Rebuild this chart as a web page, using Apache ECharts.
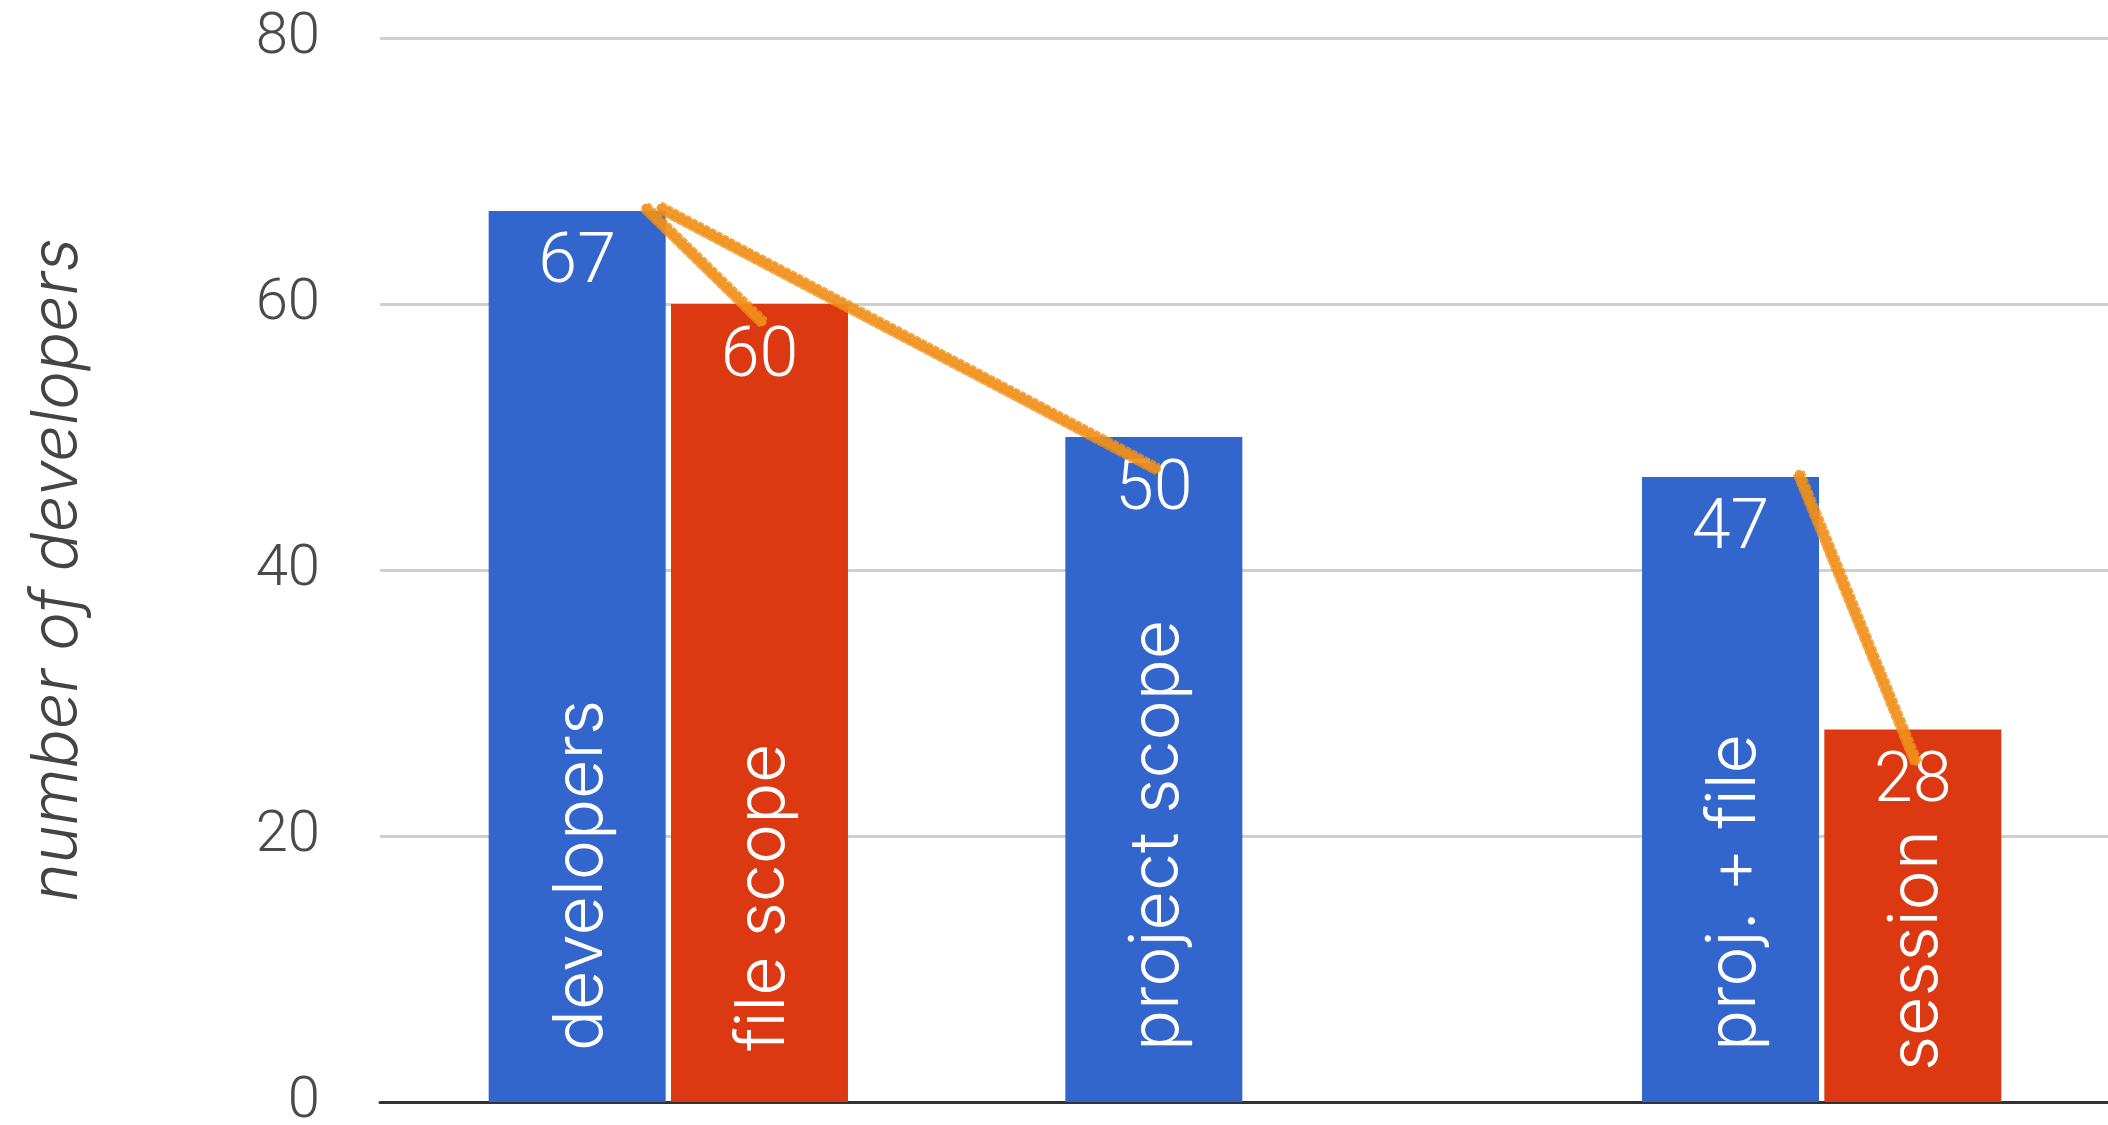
<!DOCTYPE html>
<html>
<head>
<meta charset="utf-8">
<script src="https://cdn.jsdelivr.net/npm/echarts@6/dist/echarts.min.js"></script>
<style>
  html, body { margin: 0; padding: 0; background: #ffffff; }
  #chart { width: 2108px; height: 1125px; }
</style>
</head>
<body>
<div id="chart"></div>
<script>
// Category slots along the x axis (axis labels are hidden; names sit inside the bars)
const categories = ['developers / file scope', 'project scope', 'proj. + file / session'];
// Blue series and its in-bar names
const blueValues = [67, 50, 47];
const blueNames = ['developers', 'project scope', 'proj. + file'];
// Red series and its in-bar names (no red bar in the middle slot)
const redValues = [60, null, 28];
const redNames = ['file scope', null, 'session'];
// Value axis ticks
const yTicks = [0, 20, 40, 60, 80];
// Hand-drawn connectors: [fromSeries, fromIndex, toSeries, toIndex]
const links = [[0, 0, 1, 0], [0, 0, 0, 1], [0, 2, 1, 2]];

const BLUE = '#3366cc';
const RED = '#dc3912';
const BAR_W = 177;
const BAR_GAP = '3%';
// Gap between the axis line and the start of each in-bar name
const NAME_DISTANCE = 51;
const NAME_DISTANCE_OVERRIDE = { session: 31 };

const chart = echarts.init(document.getElementById('chart'), null, { renderer: 'canvas' });

const valueLabel = {
  show: true,
  position: 'insideTop',
  distance: 19,
  color: '#ffffff',
  fontFamily: 'Roboto',
  fontWeight: 300,
  fontSize: 70,
  formatter: p => p.value
};

// Rotated name reading bottom-to-top; offset is in the text's own frame
function nameLabel() {
  return {
    show: true,
    position: 'insideBottom',
    distance: NAME_DISTANCE,
    rotate: 90,
    align: 'left',
    verticalAlign: 'middle',
    offset: [0, 4],
    color: '#ffffff',
    fontFamily: 'Inter',
    fontWeight: 300,
    fontSize: 68,
    formatter: p => p.name
  };
}

// Bar items for the name overlay: value plus the name shown inside the bar
function nameItems(values, names) {
  return values.map((v, i) => {
    const item = { value: v, name: names[i] || '' };
    if (names[i] && NAME_DISTANCE_OVERRIDE[names[i]] !== undefined) {
      item.label = { distance: NAME_DISTANCE_OVERRIDE[names[i]] };
    }
    return item;
  });
}

const option = {
  animation: false,
  backgroundColor: '#ffffff',
  grid: {
    left: 380, top: 38, width: 1730, bottom: 23,
    containLabel: false,
    outerBoundsMode: 'none'
  },
  xAxis: [
    {
      type: 'category',
      data: categories,
      axisLine: { show: true, lineStyle: { color: '#333333', width: 3 } },
      axisTick: { show: false },
      axisLabel: { show: false },
      splitLine: { show: false }
    },
    {
      type: 'category',
      data: categories,
      show: false
    }
  ],
  yAxis: {
    type: 'value',
    min: yTicks[0],
    max: yTicks[yTicks.length - 1],
    interval: yTicks[1] - yTicks[0],
    name: 'number of developers',
    nameLocation: 'middle',
    nameGap: 290,
    nameTextStyle: {
      fontFamily: 'Inter',
      fontStyle: 'italic',
      fontWeight: 300,
      fontSize: 65,
      color: '#444444'
    },
    axisLine: { show: false },
    axisTick: { show: false },
    axisLabel: {
      margin: 60,
      color: '#4a4a4a',
      fontFamily: 'Roboto',
      fontWeight: 300,
      fontSize: 58
    },
    splitLine: { lineStyle: { color: '#cfcfcf', width: 3 } }
  },
  series: [
    {
      name: 'blue', type: 'bar', xAxisIndex: 0, data: blueValues,
      barWidth: BAR_W, barGap: BAR_GAP,
      itemStyle: { color: BLUE }, label: valueLabel, z: 2
    },
    {
      name: 'red', type: 'bar', xAxisIndex: 0, data: redValues,
      barWidth: BAR_W, barGap: BAR_GAP,
      itemStyle: { color: RED }, label: valueLabel, z: 2
    },
    {
      name: 'blue names', type: 'bar', xAxisIndex: 1, data: nameItems(blueValues, blueNames),
      barWidth: BAR_W, barGap: BAR_GAP,
      itemStyle: { color: 'rgba(0,0,0,0)' }, label: nameLabel(), z: 3
    },
    {
      name: 'red names', type: 'bar', xAxisIndex: 1, data: nameItems(redValues, redNames),
      barWidth: BAR_W, barGap: BAR_GAP,
      itemStyle: { color: 'rgba(0,0,0,0)' }, label: nameLabel(), z: 3
    }
  ]
};

chart.setOption(option);

// Bar rectangle (left, right, top, center) from the laid-out series
function barRect(seriesIndex, dataIndex) {
  const l = chart.getModel().getSeriesByIndex(seriesIndex).getData().getItemLayout(dataIndex);
  const top = Math.min(l.y, l.y + l.height);
  return { left: l.x, right: l.x + l.width, top: top, cx: l.x + l.width / 2 };
}

// Marker-style orange connectors from a bar's top corner to another bar's label
function drawLinks() {
  const elements = [];
  const ORANGE = '#f0901a';
  links.forEach(([fs, fi, ts, ti], k) => {
    const a = barRect(fs, fi);
    const b = barRect(ts, ti);
    const sx = k === 1 ? a.right - 5 : a.right - 20;
    const sy = a.top - 3;
    const ex = b.cx + 3;
    const ey = b.top + (k === 0 ? 18 : 32);
    const len = Math.hypot(ex - sx, ey - sy);
    const nx = -(ey - sy) / len;
    const ny = (ex - sx) / len;
    const strokes = [
      { off: 0, w: 8, o: 0.92, dash: null },
      { off: 4.5, w: 3.5, o: 0.8, dash: [4, 3] },
      { off: -4.5, w: 3.5, o: 0.8, dash: [3, 4] },
      { off: 1.5, w: 2, o: 0.55, dash: [2, 5] }
    ];
    strokes.forEach(s => {
      elements.push({
        type: 'line',
        z: 100,
        silent: true,
        shape: {
          x1: sx + nx * s.off, y1: sy + ny * s.off,
          x2: ex + nx * s.off, y2: ey + ny * s.off
        },
        style: {
          stroke: ORANGE, lineWidth: s.w, opacity: s.o,
          lineCap: 'round', lineDash: s.dash
        }
      });
    });
  });
  chart.setOption({ graphic: { elements: elements } });
}

drawLinks();
</script>
</body>
</html>
